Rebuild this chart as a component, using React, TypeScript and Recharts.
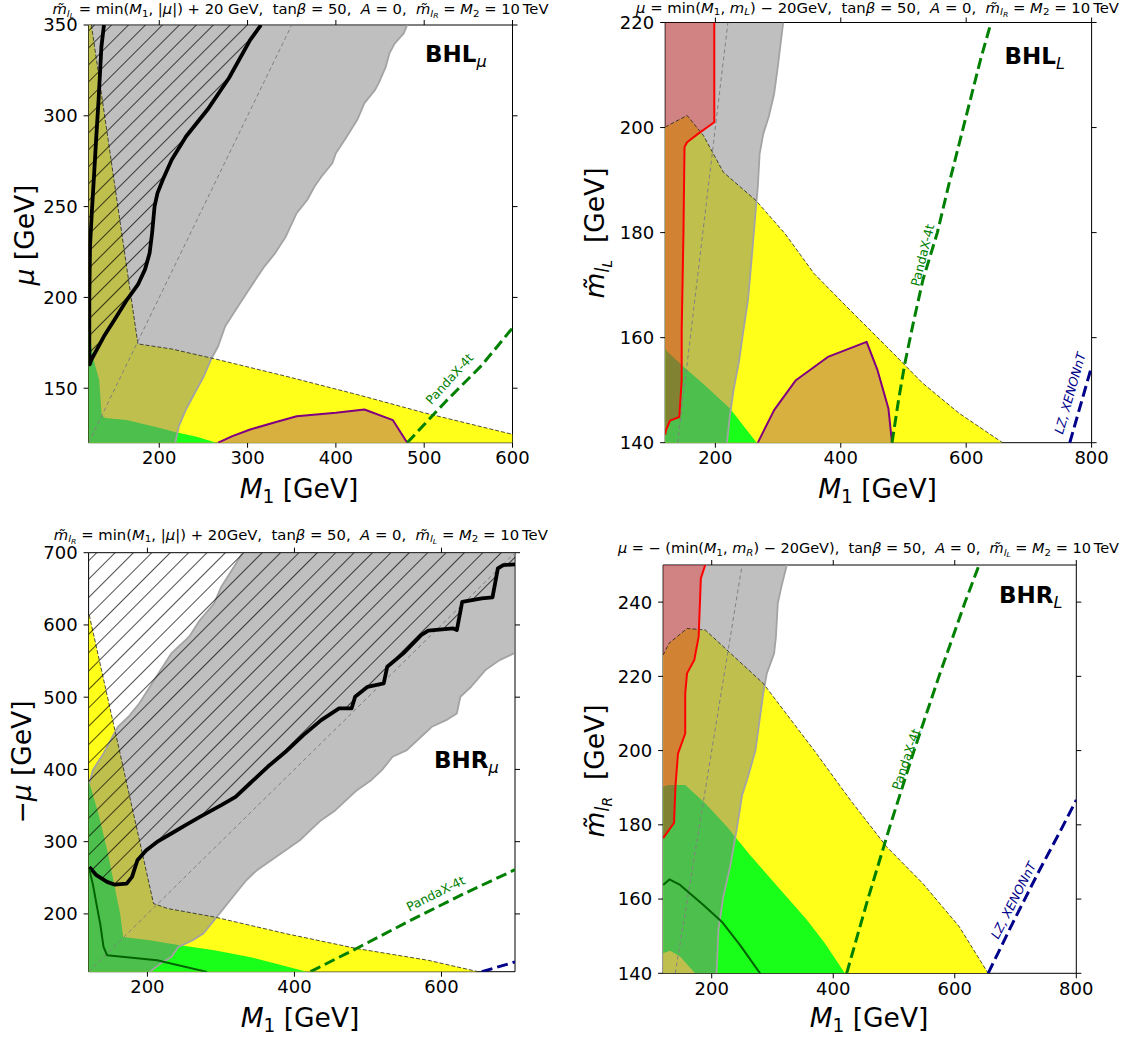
import React from 'react';
import { ComposedChart, Scatter, XAxis, YAxis } from 'recharts';

type Pt = { x: number; y: number };
const P = (a: number[][]): Pt[] => a.map(([x, y]) => ({ x, y }));

// ---------- Panel 1 : BHL_mu ----------
const p1XTicks = [200, 300, 400, 500, 600];
const p1YTicks = [150, 200, 250, 300, 350];
const p1Yellow = P([[123.2,350],[175.8,174.4],[214.1,171.6],[262.6,166.2],[343.4,156.6],[424.2,146.5],[499.8,136.5],[600,124.6],[600,120],[120,120],[120,350]]);
const p1Green = P([[120,182],[126,165],[132,154.5],[134.8,135.2],[138.6,133.6],[163,132.5],[200.8,128.1],[217.7,125.9],[242.4,123.3],[264.6,120],[120,120]]);
const p1Purple = P([[266.7,120],[282.8,123.6],[303,127.3],[331.3,131.3],[355.6,134.6],[400,136.5],[432.3,138.3],[464.6,132.4],[480.8,120]]);
const p1Gray = P([[120,350],[480.8,350],[476.8,345.4],[466.7,339.9],[460.6,334.4],[456.6,327.1],[448.5,318],[444.4,314.3],[432.3,307],[424.2,297.8],[410.1,286.8],[400,279.4],[396,273.9],[383.8,266.6],[375.8,261.1],[367.7,253.8],[355.6,246.4],[343.4,233.6],[331.3,224.4],[319.2,217.1],[309.1,209.8],[299,202.4],[286.9,193.3],[274.7,184.1],[266.7,173.1],[258.6,165.8],[250.5,156.6],[240.4,147.5],[230.3,138.3],[222.2,129.1],[218.2,120],[120,120]]);
const p1Diag = P([[120,120],[350,350]]);
const p1ContourLeft = P([[137.4,350],[134.5,338],[131.3,308.8],[128.5,286.8],[126.1,266.6],[123.6,246.4],[121.6,228],[120.8,200],[120.8,172]]);
const p1ContourRight = P([[121.2,163.1],[123.2,165.8],[129.3,171.3],[137.4,178.6],[149.5,187.8],[163.6,198.8],[175.8,207],[183.8,215.3],[189.1,224.4],[191.9,235.4],[194.7,250.1],[198,257.4],[204,264.8],[214.1,275.8],[230.3,288.6],[254.5,303.3],[278.8,320.7],[303,341.8],[315.2,350]]);
const p1HatchEnds = P([[120,350],[120,163]]);
const p1Panda = P([[480.8,120],[525,143],[565,162.5],[600,183.2]]);

// ---------- Panel 2 : BHL_L ----------
const p2XTicks = [200, 400, 600, 800];
const p2YTicks = [140, 160, 180, 200, 220];
const p2Yellow = P([[120,200.1],[154.9,202.3],[180.9,198.5],[212.7,191.5],[264.8,186.1],[311.1,179.8],[357.4,172.2],[415.2,165.2],[473.1,158.3],[530.9,151.3],[588.8,145.6],[658.2,140],[120,140]]);
const p2Green = P([[120,158],[121.3,157.6],[148.9,154.5],[186.2,150.6],[223.3,146.5],[265.9,140],[120,140]]);
const p2Purple = P([[267.7,140],[293.7,146.2],[328.4,151.9],[380.5,156.4],[441.2,159.2],[458.6,153.8],[476,146.5],[481.7,140]]);
const p2Red = P([[120,220],[198.3,220],[198.3,201],[172.2,198.8],[154.9,197.2],[150.8,196.3],[149.1,179.8],[146.3,161.4],[146.3,151.9],[142.5,144.9],[127.7,144.2],[121.3,142.4],[120,141.5]]);
const p2Gray = P([[198.3,220],[308.2,220],[305.3,217.2],[299.5,211.5],[293.7,206.4],[285,202],[276.4,198.8],[270.6,195],[267.7,188.7],[264.8,184.9],[259,176.6],[252,167.1],[244,160.8],[238,155.7],[229,150],[223,145],[218.5,140],[120,140],[120,141.5],[121.3,142.4],[127.7,144.2],[142.5,144.9],[146.3,151.9],[146.3,161.4],[149.1,179.8],[150.8,196.3],[154.9,197.2],[172.2,198.8],[198.3,201]]);
const p2Diag = P([[140,140],[220,220]]);
const p2Panda = P([[481.7,140],[492,148],[502,155],[516,163],[531,171],[554,180],[572,189],[589,197],[606,205],[623,213],[639.7,220]]);
const p2LZ = P([[765.2,140],[782,147],[800,154.5]]);

// ---------- Panel 3 : BHR_mu ----------
const p3XTicks = [200, 400, 600];
const p3YTicks = [200, 300, 400, 500, 600, 700];
const p3Yellow = P([[120.9,613.7],[208.3,214.3],[227.7,207.4],[290.8,195.8],[387.9,172.8],[485,152],[582,135.8],[650,120],[120,120],[120,613.7]]);
const p3Green = P([[120,385],[133,340],[145,290],[155,240],[163,200],[167,168],[203,163.5],[242,157],[291,149.7],[339,140.4],[417,120],[120,120]]);
const p3Gray = P([[329.6,700],[315,676],[300.5,652.9],[290.8,629.8],[271.4,606.7],[256.8,583.7],[232.5,560.6],[218,537.5],[203.4,514.4],[188.8,491.3],[174.3,472.9],[159.7,459],[150,440.5],[140.3,422.1],[125.7,399],[120.9,380.5],[120,378],[120,120],[203.4,120],[218,131.2],[232.5,140.4],[242.2,154.3],[261.7,163.5],[276.2,172.8],[290.8,191.2],[305.3,209.7],[319.9,228.2],[334.5,246.6],[349,260.5],[368.4,274.3],[387.9,288.2],[407.3,302],[421.8,315.9],[436.4,329.7],[455.8,343.6],[470.4,357.4],[485,371.3],[504.4,385.1],[518.9,399],[533.5,417.5],[552.9,426.7],[572.3,445.2],[586.9,459],[606.3,468.2],[620.9,477.5],[625.7,500.6],[640.3,514.4],[659.7,537.5],[679.1,551.3],[698.5,560.6],[700,560],[700,700]]);
const p3Diag = P([[120,120],[700,700]]);
const p3Contour = P([[120.9,265.1],[130.6,253.6],[145.1,244.3],[154.9,240.6],[171.8,242],[179.1,251.3],[186.4,274.3],[198.5,288.2],[213.1,299.7],[232.5,311.3],[251.9,322.8],[271.4,334.3],[300.5,350.5],[319.9,362],[339.3,380.5],[363.6,403.6],[387.9,424.4],[412.1,447.5],[436.4,468.2],[460.7,484.4],[477.7,484.4],[482.5,500.6],[499.5,514.4],[521.4,519],[526.2,542.1],[548.1,560.6],[572.3,586],[582,592],[616,595.2],[620.9,592.9],[628.2,632.1],[654.9,636.7],[669.4,638.1],[676.7,678.3],[684,682.9],[700,683.8]]);
const p3HatchEnds = P([[700,700],[120,700],[120,265.1]]);
const p3DarkGreen = P([[121,262],[126,240],[130.6,214.3],[136,185],[140.3,154.3],[145.1,142.8],[213.1,135.8],[281.1,119.7]]);
const p3Panda = P([[421.8,120],[485,152.5],[557.8,191],[630.6,228],[700,261.2]]);
const p3LZ = P([[654.9,120],[700,133.5]]);

// ---------- Panel 4 : BHR_L ----------
const p4XTicks = [200, 400, 600, 800];
const p4YTicks = [140, 160, 180, 200, 220, 240];
const p4Yellow = P([[120,225.7],[129.6,228.9],[159.4,232.9],[189.3,232.5],[219.1,228],[284.8,218.1],[368.4,200.1],[428.1,186.7],[487.8,174.1],[547.5,164.2],[607.2,152.6],[654.9,140],[120,140]]);
const p4Green = P([[120,190.3],[129.6,190.7],[156.4,190.7],[189.3,185.8],[225.1,179.5],[260.9,172.3],[308.7,163.3],[356.4,154.4],[386.3,148.1],[419.1,140],[172.6,140],[148,144.5],[131.5,146.1],[120,145.4]]);
const p4Red = P([[120,250],[189.3,250],[182.1,246.4],[178.5,230.7],[171.3,224.4],[159.4,220.8],[156.4,215.4],[156.4,204.6],[144.5,199.2],[140.3,190.3],[138,180.5],[120,176.4]]);
const p4Gray = P([[189.3,250],[323.6,250],[314.6,244.1],[308.7,239.6],[305.7,230.7],[302.7,226.2],[290.7,220.8],[284.8,215.4],[278.8,208.2],[272,200],[258,192],[250,188],[241,178.6],[230,168.5],[219,160.6],[211,151.7],[208,140],[120,140],[120,176.4],[138,180.5],[140.3,190.3],[144.5,199.2],[156.4,204.6],[156.4,215.4],[159.4,220.8],[171.3,224.4],[178.5,230.7],[182.1,246.4]]);
const p4Diag = P([[140,140],[250,250]]);
const p4DarkGreen = P([[120,163.8],[130.4,165.3],[148,163.8],[186.3,158.4],[216.6,153.9],[246.7,147.6],[279.6,140]]);
const p4Panda = P([[422.1,140],[457,160],[494,180],[533,200],[574,220],[617,240],[640,250]]);
const p4LZ = P([[654.9,140],[696.7,154],[738.5,167.5],[774.3,178.5],[800,186.7]]);

// ---------- styles ----------
const C = {
  yellow: '#ffff1a', green: '#1aff1a', gray: '#808080', grayEdge: '#a3a3a3',
  red: '#b84040', redLine: '#ff0000', purpleFill: '#d8b040', purple: '#800080',
  dark: '#006400', panda: '#008000', lz: '#00008b',
};
const FONT = 'DejaVu Sans';

type Layer = { data: Pt[]; fill?: string; op?: number; stroke?: string; w?: number; dash?: string; closed?: boolean };

const fillL = (data: Pt[], fill: string, op = 1): Layer => ({ data, fill, op, closed: true });
const lineL = (data: Pt[], stroke: string, w: number, dash?: string): Layer => ({ data, stroke, w, dash });

const noShape = () => <g />;
const makeLine = (l: Layer) => (props: any) => {
  const pts: { x: number; y: number }[] = props.points || [];
  const d = pts.map((p, i) => `${i ? 'L' : 'M'}${p.x},${p.y}`).join('') + (l.closed ? 'Z' : '');
  return (
    <path d={d} fill={l.fill || 'none'} fillOpacity={l.op} stroke={l.stroke || 'none'}
      strokeWidth={l.w} strokeDasharray={l.dash} strokeLinejoin="round" strokeLinecap="butt" />
  );
};

type Seg = [string, number?, boolean?];
function MathText(props: { segs: Seg[]; x: number; y: number; size: number; anchor?: string; rotate?: number; len?: number; weight?: string; fill?: string; central?: boolean; italicAll?: boolean }) {
  const { segs, x, y, size, anchor = 'middle', rotate, len, weight, fill = '#000', central, italicAll } = props;
  const shift = [0, 0.2, 0.32];
  const scale = [1, 0.7, 0.52];
  let cur = 0;
  const spans = segs.map(([t, lvl = 0, it = false], i) => {
    const target = shift[lvl] * size;
    const dy = target - cur;
    cur = target;
    return (
      <tspan key={i} dy={dy !== 0 ? dy : undefined} fontSize={size * scale[lvl]}
        fontStyle={it || italicAll ? 'italic' : 'normal'} fontWeight={lvl === 0 ? weight || 'normal' : 'normal'}>{t}</tspan>
    );
  });
  return (
    <text x={x} y={y} textAnchor={anchor as any} fontFamily={FONT} fill={fill} style={{ whiteSpace: 'pre' }}
      dominantBaseline={central ? 'central' : undefined}
      transform={rotate ? `rotate(${rotate} ${x} ${y})` : undefined}
      textLength={len} lengthAdjust={len ? 'spacingAndGlyphs' : undefined}>{spans}</text>
  );
}

const mt = 'm\u0303';
const title1: Seg[] = [[mt,0,true],['l',1,true],['L',2,true],[' = min(',0],['M',0,true],['1',1],[', |',0],['\u03bc',0,true],['|) + 20 GeV,  tan',0],['\u03b2',0,true],[' = 50,  ',0],['A',0,true],[' = 0,  ',0],[mt,0,true],['l',1,true],['R',2,true],[' = ',0],['M',0,true],['2',1],[' = 10\u2009TeV',0]];
const title2: Seg[] = [['\u03bc',0,true],[' = min(',0],['M',0,true],['1',1],[', ',0],['m',0,true],['L',1,true],[') \u2212 20GeV,  tan',0],['\u03b2',0,true],[' = 50,  ',0],['A',0,true],[' = 0,  ',0],[mt,0,true],['l',1,true],['R',2,true],[' = ',0],['M',0,true],['2',1],[' = 10\u2009TeV',0]];
const title3: Seg[] = [[mt,0,true],['l',1,true],['R',2,true],[' = min(',0],['M',0,true],['1',1],[', |',0],['\u03bc',0,true],['|) + 20GeV,  tan',0],['\u03b2',0,true],[' = 50,  ',0],['A',0,true],[' = 0,  ',0],[mt,0,true],['l',1,true],['L',2,true],[' = ',0],['M',0,true],['2',1],[' = 10\u2009TeV',0]];
const title4: Seg[] = [['\u03bc',0,true],[' = \u2212 (min(',0],['M',0,true],['1',1],[', ',0],['m',0,true],['R',1,true],[') \u2212 20GeV),  tan',0],['\u03b2',0,true],[' = 50,  ',0],['A',0,true],[' = 0,  ',0],[mt,0,true],['l',1,true],['L',2,true],[' = ',0],['M',0,true],['2',1],[' = 10\u2009TeV',0]];
const xLab: Seg[] = [['M',0,true],['1',1],[' [GeV]',0]];

const tickFont = { fill: '#000', fontSize: 18, fontFamily: FONT };
const blank = () => '';
const LAB = 26.5;

type Cfg = {
  left: number; top: number; w: number; h: number;
  margin: { top: number; right: number; bottom: number; left: number };
  yw: number; xDomain: number[]; yDomain: number[]; xTicks: number[]; yTicks: number[];
  layers: Layer[]; texts: React.ReactNode;
};

function Panel({ cfg }: { cfg: Cfg }) {
  return (
    <div style={{ position: 'absolute', left: cfg.left, top: cfg.top, width: cfg.w, height: cfg.h }}>
      <ComposedChart width={cfg.w} height={cfg.h} margin={cfg.margin}>
        <XAxis xAxisId="b" dataKey="x" type="number" domain={cfg.xDomain} ticks={cfg.xTicks} allowDataOverflow
          interval={0} height={30} tickSize={5} tickMargin={4} stroke="#000" tick={tickFont} />
        <XAxis xAxisId="t" orientation="top" dataKey="x" type="number" domain={cfg.xDomain} ticks={cfg.xTicks}
          allowDataOverflow interval={0} height={10} tickSize={5} stroke="#000" tickFormatter={blank} />
        <YAxis yAxisId="l" dataKey="y" type="number" domain={cfg.yDomain} ticks={cfg.yTicks} allowDataOverflow
          interval={0} width={cfg.yw} tickSize={5} tickMargin={6} stroke="#000" tick={tickFont} />
        <YAxis yAxisId="r" orientation="right" dataKey="y" type="number" domain={cfg.yDomain} ticks={cfg.yTicks}
          allowDataOverflow interval={0} width={10} tickSize={5} stroke="#000" tickFormatter={blank} />
        {cfg.layers.map((l, i) => (
          <Scatter key={i} xAxisId="b" yAxisId="l" data={l.data} line={makeLine(l)} shape={noShape}
            isAnimationActive={false} legendType="none" />
        ))}
      </ComposedChart>
      <svg width={cfg.w} height={cfg.h} style={{ position: 'absolute', left: 0, top: 0, pointerEvents: 'none', overflow: 'visible' }}>
        {cfg.texts}
      </svg>
    </div>
  );
}

const dashY = '4 2';
const dashD = '4 3';
const dashP = '11 5';

const cfg1: Cfg = {
  left: 0, top: 0, w: 560, h: 510, margin: { top: 15, right: 37.5, bottom: 37.3, left: 0 }, yw: 88.6,
  xDomain: [120, 600], yDomain: [120, 350], xTicks: p1XTicks, yTicks: p1YTicks,
  layers: [
    fillL(p1Yellow, C.yellow), fillL(p1Green, C.green), fillL(p1Purple, C.purpleFill),
    fillL(p1Gray, C.gray, 0.5), lineL(p1Gray.slice(1, 31), C.grayEdge, 1.8),
    lineL(p1Yellow.slice(0, 8), '#222', 0.8, dashY), lineL(p1Diag, C.gray, 1, dashD),
    { data: [p1HatchEnds[1], ...p1ContourRight, p1HatchEnds[0]], fill: 'url(#hatchA)', closed: true },
    lineL([...p1ContourLeft, ...p1ContourRight], '#000', 3.8),
    lineL(p1Purple, C.purple, 2), lineL(p1Panda, C.panda, 3, dashP),
  ],
  texts: (
    <>
      <MathText segs={title1} x={300.5} y={14} size={13.5} len={496} />
      <MathText segs={xLab} x={299} y={498} size={LAB} />
      <MathText segs={[['\u03bc',0,true],[' [GeV]',0]]} x={34} y={235} size={LAB} rotate={-90} />
      <MathText segs={[['BHL',0],['\u03bc',1,true]]} x={425} y={62} size={23} anchor="start" weight="bold" />
      <MathText segs={[['PandaX-4t',0]]} x={449} y={378.5} size={12.5} rotate={-47.5} fill={C.panda} central />
    </>
  ),
};

const cfg2: Cfg = {
  left: 560, top: 0, w: 569, h: 510, margin: { top: 12.5, right: 27.4, bottom: 37.3, left: 0 }, yw: 105.2,
  xDomain: [120, 800], yDomain: [140, 220], xTicks: p2XTicks, yTicks: p2YTicks,
  layers: [
    fillL(p2Yellow, C.yellow), fillL(p2Green, C.green), fillL(p2Purple, C.purpleFill),
    fillL(p2Red, C.red, 0.65), fillL(p2Gray, C.gray, 0.5), lineL(p2Gray.slice(1, 17), C.grayEdge, 1.8),
    lineL(p2Yellow.slice(0, 12), '#222', 0.8, dashY), lineL(p2Diag, C.gray, 1, dashD),
    lineL(p2Red.slice(1), C.redLine, 2), lineL(p2Purple, C.purple, 2),
    lineL(p2Panda, C.panda, 3, dashP), lineL(p2LZ, C.lz, 3, dashP),
  ],
  texts: (
    <>
      <MathText segs={title2} x={317.5} y={12.5} size={13.5} len={483} />
      <MathText segs={xLab} x={317.5} y={498} size={LAB} />
      <MathText segs={[[mt,0,true],['l',1,true],['L',2,true],['  [GeV]',0]]} x={44} y={233} size={LAB} rotate={-90} />
      <MathText segs={[['BHL',0],['L',1,true]]} x={444.5} y={64} size={23} anchor="start" weight="bold" />
      <MathText segs={[['PandaX-4t',0]]} x={362} y={255} size={12.5} rotate={-76} fill={C.panda} central />
      <MathText segs={[['LZ, XENONnT',0]]} x={509.5} y={393} size={12.5} rotate={-74} fill={C.lz} central italicAll />
    </>
  ),
};

const cfg3: Cfg = {
  left: 0, top: 520, w: 560, h: 518, margin: { top: 22.7, right: 35, bottom: 36.3, left: 0 }, yw: 88.6,
  xDomain: [120, 700], yDomain: [120, 700], xTicks: p3XTicks, yTicks: p3YTicks,
  layers: [
    fillL(p3Yellow, C.yellow), fillL(p3Green, C.green),
    fillL(p3Gray, C.gray, 0.5), lineL(p3Gray.slice(0, 16), C.grayEdge, 1.8), lineL(p3Gray.slice(18, 50), C.grayEdge, 1.8),
    lineL(p3Yellow.slice(0, 8), '#222', 0.8, dashY), lineL(p3Diag, C.gray, 1, dashD),
    { data: [...p3Contour, ...p3HatchEnds], fill: 'url(#hatchB)', closed: true },
    lineL(p3Contour, '#000', 3.8), lineL(p3DarkGreen, C.dark, 2),
    lineL(p3Panda, C.panda, 3, dashP), lineL(p3LZ, C.lz, 3, dashP),
  ],
  texts: (
    <>
      <MathText segs={title3} x={300.8} y={19.5} size={13.5} len={494} />
      <MathText segs={xLab} x={300} y={506.5} size={LAB} />
      <MathText segs={[['\u2212',0],['\u03bc',0,true],[' [GeV]',0]]} x={31} y={242} size={LAB} rotate={-90} />
      <MathText segs={[['BHR',0],['\u03bc',1,true]]} x={434} y={248} size={23} anchor="start" weight="bold" />
      <MathText segs={[['PandaX-4t',0]]} x={435.5} y={373} size={12.5} rotate={-26.5} fill={C.panda} central />
    </>
  ),
};

const cfg4: Cfg = {
  left: 560, top: 520, w: 569, h: 518, margin: { top: 35, right: 42.7, bottom: 34.7, left: 0 }, yw: 103.1,
  xDomain: [120, 800], yDomain: [140, 250], xTicks: p4XTicks, yTicks: p4YTicks,
  layers: [
    fillL(p4Yellow, C.yellow), fillL(p4Green, C.green),
    fillL(p4Red, C.red, 0.65), fillL(p4Gray, C.gray, 0.5), lineL(p4Gray.slice(1, 17), C.grayEdge, 1.8),
    lineL(p4Yellow.slice(0, 12), '#222', 0.8, dashY), lineL(p4Diag, C.gray, 1, dashD),
    lineL(p4Red.slice(1), C.redLine, 2), lineL(p4DarkGreen, C.dark, 2),
    lineL(p4Panda, C.panda, 3, dashP), lineL(p4LZ, C.lz, 3, dashP),
  ],
  texts: (
    <>
      <MathText segs={title4} x={308.5} y={33} size={13.5} len={501} />
      <MathText segs={xLab} x={309} y={506.5} size={LAB} />
      <MathText segs={[[mt,0,true],['l',1,true],['R',2,true],['  [GeV]',0]]} x={44} y={251} size={LAB} rotate={-90} />
      <MathText segs={[['BHR',0],['L',1,true]]} x={439} y={83} size={23} anchor="start" weight="bold" />
      <MathText segs={[['PandaX-4t',0]]} x={345.5} y={239} size={12.5} rotate={-71} fill={C.panda} central />
      <MathText segs={[['LZ, XENONnT',0]]} x={453} y={380} size={12.5} rotate={-63} fill={C.lz} central italicAll />
    </>
  ),
};

export default function App() {
  return (
    <div style={{ position: 'absolute', left: 0, top: 0, width: 1129, height: 1038, background: '#fff', fontFamily: FONT }}>
      <svg width={0} height={0} style={{ position: 'absolute' }}>
        <defs>
          <pattern id="hatchA" patternUnits="userSpaceOnUse" width={12} height={12} patternTransform="rotate(45)">
            <line x1={0} y1={0} x2={0} y2={12} stroke="#000" strokeWidth={1.4} />
          </pattern>
          <pattern id="hatchB" patternUnits="userSpaceOnUse" width={13} height={13} patternTransform="rotate(45)">
            <line x1={0} y1={0} x2={0} y2={13} stroke="#000" strokeWidth={1.4} />
          </pattern>
        </defs>
      </svg>
      <Panel cfg={cfg1} />
      <Panel cfg={cfg2} />
      <Panel cfg={cfg3} />
      <Panel cfg={cfg4} />
    </div>
  );
}
